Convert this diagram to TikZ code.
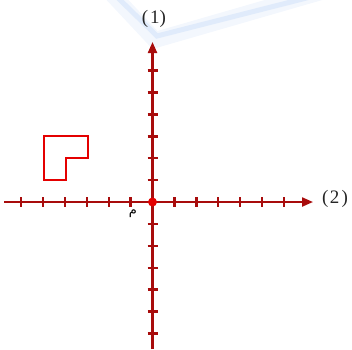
\documentclass[tikz,border=0pt]{standalone}
\usepackage{fontspec}
\setmainfont{Liberation Serif}
\newfontfamily\arabicfont[Script=Arabic]{DejaVu Sans}
\TeXXeTstate=1
\usetikzlibrary{arrows.meta}
\definecolor{axisred}{RGB}{168,12,12}
\definecolor{shapered}{RGB}{228,0,0}
\definecolor{faintblue}{RGB}{214,228,250}
\begin{document}
\begin{tikzpicture}[x=1pt,y=-1pt,
  axisline/.style={draw=axisred, line width=2.2pt, -{Triangle[length=11pt,width=9pt]}},
  tickmark/.style={draw=axisred, line width=2.4pt},
  lbl/.style={font=\fontsize{19}{22}\selectfont, inner sep=0pt, text=black!85},
  shapeline/.style={draw=shapered, line width=1.6pt}]
\useasboundingbox (0,0) rectangle (352,349);
% faint blue stripes at the top
\draw[faintblue!30, line width=16pt, line cap=butt] (110,-8) -- (155,40) -- (335,-12);
\draw[faintblue!75, line width=5pt] (116,-4) -- (157,36) -- (330,-8);
% axes
\coordinate (O) at (152.5,202);
\coordinate (xl) at (4,202);
\coordinate (xr) at (313,202);
\coordinate (yt) at (152.5,42);
\coordinate (yb) at (152.5,349);
\draw[axisline] (xl) -- (xr);
\draw[axisline] (yb) -- (yt);
\foreach \k in {-6,...,-1,1,2,...,6} {
  \draw[tickmark] (152.5+\k*21.9,197) -- (152.5+\k*21.9,207);
  \draw[tickmark] (147.5,202-\k*21.9) -- (157.5,202-\k*21.9);
}
\fill[shapered] (O) circle (4.5pt);
% labels
\node[lbl] (l1) at (154,19) {(\kern2pt1)};
\node[lbl] (l2) at (335,199) {(\kern1.5pt2\kern2pt)};
\node[inner sep=0pt, font=\arabicfont\fontsize{13}{14}\selectfont] (m) at (133,214) {\beginR م\endR};
% L shape
\draw[shapeline] (44,136) -- (88,136) -- (88,158) -- (66,158) -- (66,180) -- (44,180) -- cycle;
\end{tikzpicture}
\end{document}
